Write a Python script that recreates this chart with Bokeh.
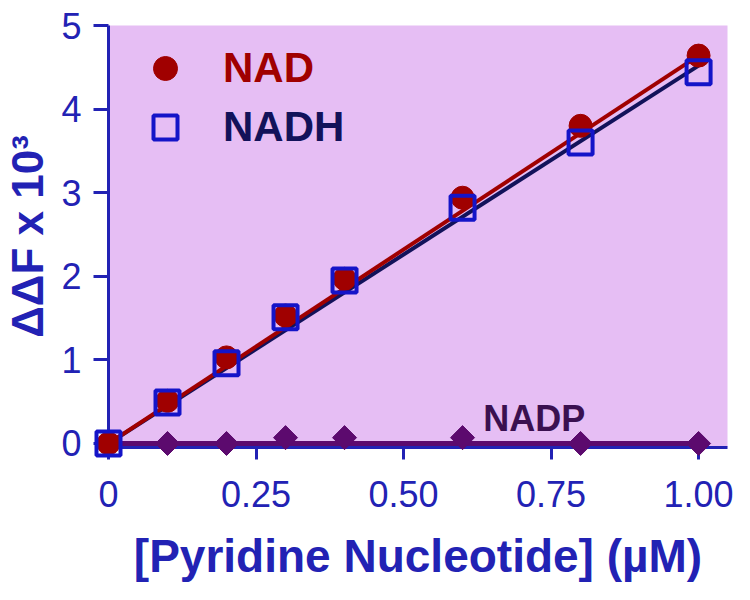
from bokeh.plotting import figure
from bokeh.models import Range1d, FixedTicker, Legend, LegendItem, Label
from bokeh.embed import file_html
from bokeh.resources import INLINE

# concentrations (uM)
conc = [0, 0.1, 0.2, 0.3, 0.4, 0.6, 0.8, 1.0]

# delta-delta F x 10^3
nad = [0.0, 0.51, 1.03, 1.53, 1.97, 2.94, 3.80, 4.64]
nadh = [0.0, 0.49, 0.96, 1.51, 1.95, 2.82, 3.60, 4.44]
nadp = [0.0, 0.0, 0.0, 0.07, 0.07, 0.07, 0.0, 0.0]

# fitted lines (end points)
fit_x = [0, 1.0]
nad_fit = [0, 4.64]
nadh_fit = [0, 4.52]
nadp_fit = [0, 0]

x_ticks = [0, 0.25, 0.5, 0.75, 1.0]
x_tick_labels = {0: "0", 0.25: "0.25", 0.5: "0.50", 0.75: "0.75", 1.0: "1.00"}
y_ticks = [0, 1, 2, 3, 4, 5]

nadp_label_x = 0.635
nadp_label_y = 0.30

FONT = "Liberation Sans"
AXIS_BLUE = "#2222b4"
NAD_RED = "#a00000"
NADH_BLUE = "#1414c8"
NADH_LINE = "#12125a"
NADP_PURPLE = "#5c0a6e"

p = figure(
    width=734,
    height=584,
    x_range=Range1d(0, 1.049),
    y_range=Range1d(-0.048, 5.0),
    output_backend="svg",
    toolbar_location=None,
    min_border_left=106,
    min_border_right=7,
    min_border_top=25,
    min_border_bottom=137,
)
p.background_fill_color = "#e6bef4"
p.border_fill_color = "white"
p.outline_line_color = None
p.grid.visible = False

# lines
p.line(fit_x, nadh_fit, line_width=4, color=NADH_LINE)
p.line(fit_x, nad_fit, line_width=4, color=NAD_RED)
p.line(fit_x, nadp_fit, line_width=5, color=NADP_PURPLE)

# points (overlay level so they are not cut at the axes)
r_nadp = p.scatter(conc, nadp, marker="square", size=17, angle=0.785,
                   color=NADP_PURPLE, level="overlay")
r_nad = p.scatter(conc, nad, marker="circle", size=23, color=NAD_RED, level="overlay")
r_nadh = p.scatter(conc, nadh, marker="square", size=24, fill_color=None,
                   line_color=NADH_BLUE, line_width=4, level="overlay")

# two legends so each label gets its own colour
for item, label_color, loc in [
    (LegendItem(label="NAD", renderers=[r_nad]), NAD_RED, (27, 349)),
    (LegendItem(label="NADH", renderers=[r_nadh]), NADH_LINE, (27, 290)),
]:
    leg = Legend(
        items=[item],
        location=loc,
        padding=0,
        margin=0,
        spacing=0,
        glyph_width=60,
        glyph_height=60,
        label_height=60,
        label_standoff=28,
        border_line_color=None,
        background_fill_alpha=0,
        label_text_font=FONT,
        label_text_font_style="bold",
        label_text_font_size="42px",
        label_text_color=label_color,
    )
    p.add_layout(leg)

p.add_layout(Label(
    x=nadp_label_x, y=nadp_label_y, text="NADP",
    text_font=FONT, text_font_style="bold", text_font_size="36px",
    text_color="#3a1050", text_baseline="middle", text_align="left",
))

# axes
for ax in (p.xaxis[0], p.yaxis[0]):
    ax.axis_line_color = AXIS_BLUE
    ax.axis_line_width = 3
    ax.major_tick_line_color = AXIS_BLUE
    ax.major_tick_line_width = 3
    ax.major_tick_in = 0
    ax.minor_tick_line_color = None
    ax.major_label_text_font = FONT
    ax.major_label_text_font_size = "36px"
    ax.major_label_text_color = AXIS_BLUE
    ax.axis_label_text_font = FONT
    ax.axis_label_text_font_style = "bold"
    ax.axis_label_text_color = AXIS_BLUE

p.xaxis.ticker = FixedTicker(ticks=x_ticks)
p.xaxis.major_label_overrides = x_tick_labels
p.xaxis.major_tick_out = 12
p.xaxis.major_label_standoff = 21
p.xaxis.axis_label = "[Pyridine Nucleotide] (\u00b5M)"
p.xaxis.axis_label_text_font_size = "46px"
p.xaxis.axis_label_standoff = 20

p.yaxis.ticker = FixedTicker(ticks=y_ticks)
p.yaxis.major_tick_out = 15
p.yaxis.major_label_standoff = 12
p.yaxis.major_label_orientation = "horizontal"
p.yaxis.axis_label = "\u0394\u0394F x 10\u00b3"
p.yaxis.axis_label_text_font_size = "44px"
p.yaxis.axis_label_standoff = 6

open("out.html", "w").write(file_html(p, INLINE))
